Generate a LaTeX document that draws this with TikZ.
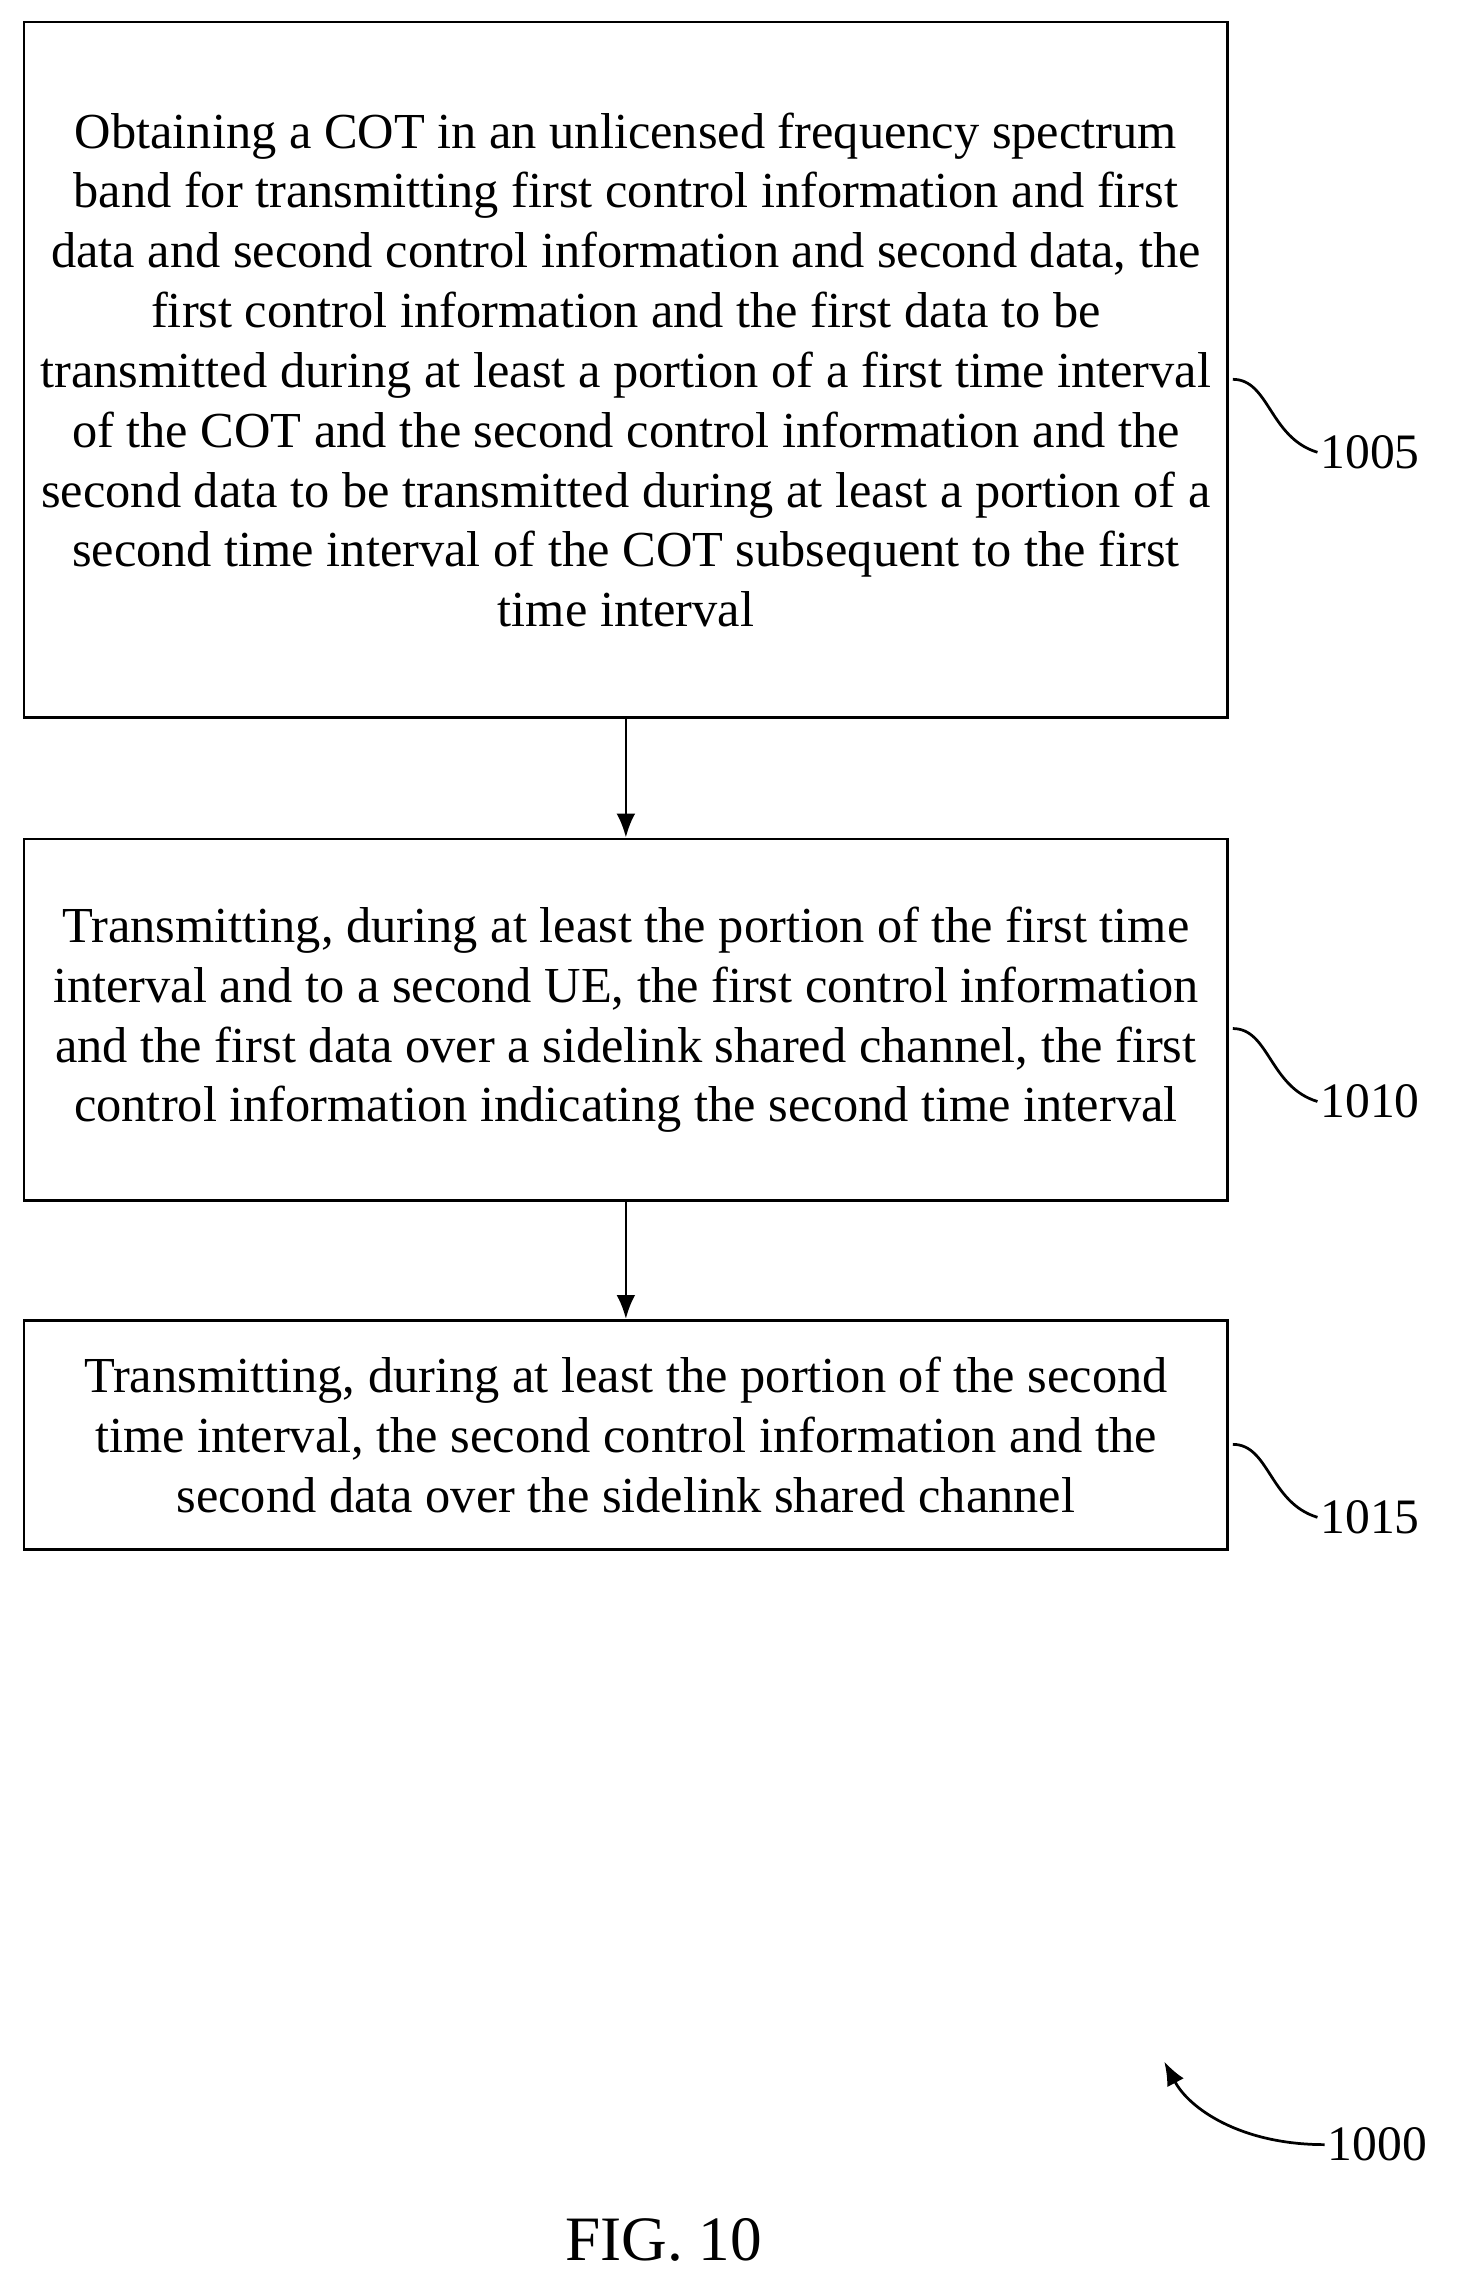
\documentclass[tikz,border=0pt]{standalone}
\usepackage{fontspec}
\setmainfont{Liberation Serif}
\usetikzlibrary{positioning,arrows.meta}
\begin{document}
\begin{tikzpicture}[x=0.03cm,y=-0.03cm,line width=1.6pt]
    \tikzset{stepbox/.style={draw,minimum width=24.75cm,align=center,
        font=\fontsize{29.5pt}{35pt}\selectfont,inner sep=0pt},
        reflbl/.style={font=\fontsize{29pt}{35pt}\selectfont,anchor=west,inner sep=1pt},
        marrs/.style={-{Latex[length=14pt,width=11pt]}}}
    \useasboundingbox (0,0) rectangle (1000,1558);
    
    \node[stepbox,minimum height=14.31cm] (s1005) at (429,253.5) {Obtaining a COT in an unlicensed frequency spectrum\\ band for transmitting first control information and first\\ data and second control information and second data, the\\ first control information and the first data to be\\ transmitted during at least a portion of a first time interval\\ of the COT and the second control information and the\\ second data to be transmitted during at least a portion of a\\ second time interval of the COT subsequent to the first\\ time interval};
    \node[stepbox,minimum height=7.44cm] (s1010) at (429,699) {Transmitting, during at least the portion of the first time\\ interval and to a second UE, the first control information\\ and the first data over a sidelink shared channel, the first\\ control information indicating the second time interval};
    \node[stepbox,minimum height=4.71cm] (s1015) at (429,983.5) {Transmitting, during at least the portion of the second\\ time interval, the second control information and the\\ second data over the sidelink shared channel};
    
    \draw[marrs] (s1005) -- (s1010);
    \draw[marrs] (s1010) -- (s1015);
    
    % reference numerals
    \foreach \n/\y in {1005/310, 1010/755, 1015/1040} {
        \node[reflbl] (l\n) at (903,\y) {\n};
        \draw (845,\y-50) .. controls (870,\y-50) and (870,\y-10) .. (l\n.west);
    }
    \node[reflbl] (l1000) at (908,1470) {1000};
    \coordinate (tip) at (798,1413);
    \draw[marrs] (l1000.west) .. controls (850,1470) and (815,1445) .. (tip);
    \node[font=\fontsize{37pt}{40pt}\selectfont] (fig) at (455,1535) {FIG. 10};
\end{tikzpicture}
\end{document}
